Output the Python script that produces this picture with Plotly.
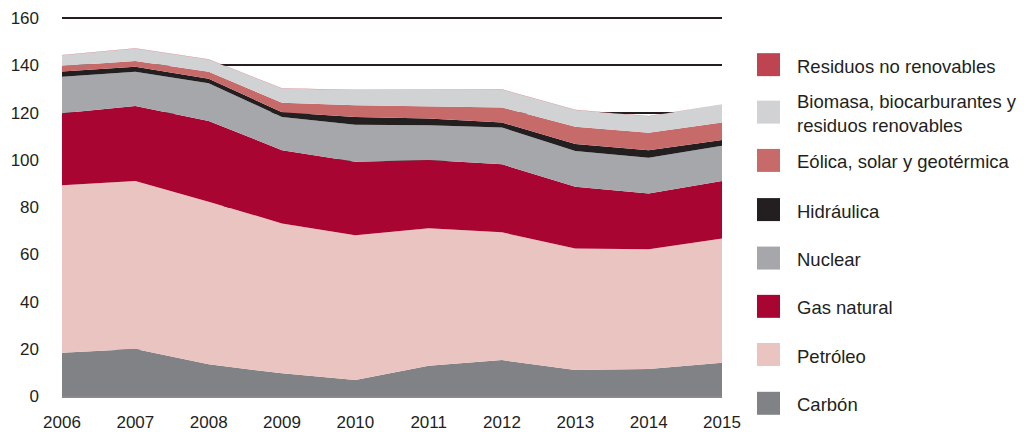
import plotly.graph_objects as go

years = [2006, 2007, 2008, 2009, 2010, 2011, 2012, 2013, 2014, 2015]
year_labels = [str(y) for y in years]

carbon = [18.3, 19.9, 13.4, 9.6, 6.8, 12.8, 15.2, 11.0, 11.4, 14.1]
petroleo = [71.0, 71.2, 68.9, 63.5, 61.3, 58.2, 54.1, 51.5, 50.7, 52.6]
gas_natural = [30.4, 31.7, 34.2, 31.0, 31.1, 28.9, 28.8, 26.1, 23.7, 24.3]
nuclear = [15.5, 14.5, 15.9, 14.1, 15.7, 14.8, 15.6, 15.2, 15.1, 15.0]
hidraulica = [2.2, 2.1, 1.9, 2.0, 3.3, 2.8, 2.1, 2.9, 3.2, 2.4]
eolica = [2.3, 2.5, 3.0, 4.0, 4.9, 5.3, 6.4, 7.3, 7.4, 7.4]
biomasa = [4.6, 5.3, 5.2, 6.0, 6.5, 7.0, 7.6, 7.1, 7.0, 7.7]
residuos = [0.1, 0.1, 0.1, 0.1, 0.1, 0.1, 0.1, 0.1, 0.1, 0.1]

y_ticks = [0, 20, 40, 60, 80, 100, 120, 140, 160]

# stacking order bottom -> top
series = [
    ("Carbón", carbon, "#818286"),
    ("Petróleo", petroleo, "#EAC4C0"),
    ("Gas natural", gas_natural, "#A80532"),
    ("Nuclear", nuclear, "#A6A7AB"),
    ("Hidráulica", hidraulica, "#231F20"),
    ("Eólica, solar y geotérmica", eolica, "#C76A6A"),
    ("Biomasa, biocarburantes y<br>residuos renovables", biomasa, "#D1D2D4"),
    ("Residuos no renovables", residuos, "#BE4452"),
]

FONT = "Liberation Sans, Arial, sans-serif"
TXT = "#231F20"

fig = go.Figure()
for name, vals, col in series:
    fig.add_trace(go.Scatter(
        x=years, y=vals, name=name, stackgroup="one", mode="lines",
        line=dict(width=0, color=col), fillcolor=col, showlegend=False,
        hoverinfo="x+y+name",
    ))

# plot area in pixels (y range slightly above 160 so its gridline is drawn)
Y_MAX = 160.5
L, R, B = 62, 722, 396
PX_PER_UNIT = (396 - 18) / 160
T = B - Y_MAX * PX_PER_UNIT
W, H = 1034, 432


def px(x):
    return (x - L) / (R - L)


def py(y):
    return (B - y) / (B - T)


# custom legend (top to bottom = reverse stacking)
legend_items = list(reversed(series))
sq_x0, sq_x1 = 757, 780
centers = [64.5, 112, 160.3, 209.5, 258, 306.3, 354.5, 403.3]
shapes = []
annotations = []
for (name, vals, col), cy in zip(legend_items, centers):
    shapes.append(dict(
        type="rect", xref="paper", yref="paper",
        x0=px(sq_x0), x1=px(sq_x1), y0=py(cy + 11.5), y1=py(cy - 11.5),
        fillcolor=col, line=dict(width=0),
    ))
    annotations.append(dict(
        xref="paper", yref="paper", x=px(795), y=py(cy + 1.5),
        xanchor="left", yanchor="middle", align="left", showarrow=False,
        text=name, font=dict(family=FONT, size=18.5, color=TXT),
    ))

fig.update_layout(
    width=W, height=H,
    margin=dict(l=L, r=W - R, t=T, b=H - B, pad=0, autoexpand=False),
    paper_bgcolor="white", plot_bgcolor="white",
    showlegend=False,
    shapes=shapes, annotations=annotations,
    font=dict(family=FONT, size=17, color=TXT),
    xaxis=dict(
        range=[2006, 2015], tickvals=years, ticktext=year_labels,
        showgrid=False, zeroline=False, automargin=False,
        showline=True, linecolor="#8A8A8E", linewidth=1.5,
        ticks="", ticklabelstandoff=10,
        tickfont=dict(family=FONT, size=17, color=TXT),
        fixedrange=True,
    ),
    yaxis=dict(
        range=[0, Y_MAX], tickvals=y_ticks, ticktext=[str(v) for v in y_ticks],
        showgrid=True, gridcolor="#231F20", gridwidth=1.5,
        zeroline=True, zerolinecolor="#8A8A8E", zerolinewidth=1.5,
        showline=False, ticks="", ticklabelstandoff=22, automargin=False,
        tickfont=dict(family=FONT, size=17, color=TXT),
        fixedrange=True,
    ),
)

fig.write_html(
    "out.html",
    config={"displayModeBar": False},
    post_script="document.body.style.margin='0';document.body.style.padding='0';",
)
